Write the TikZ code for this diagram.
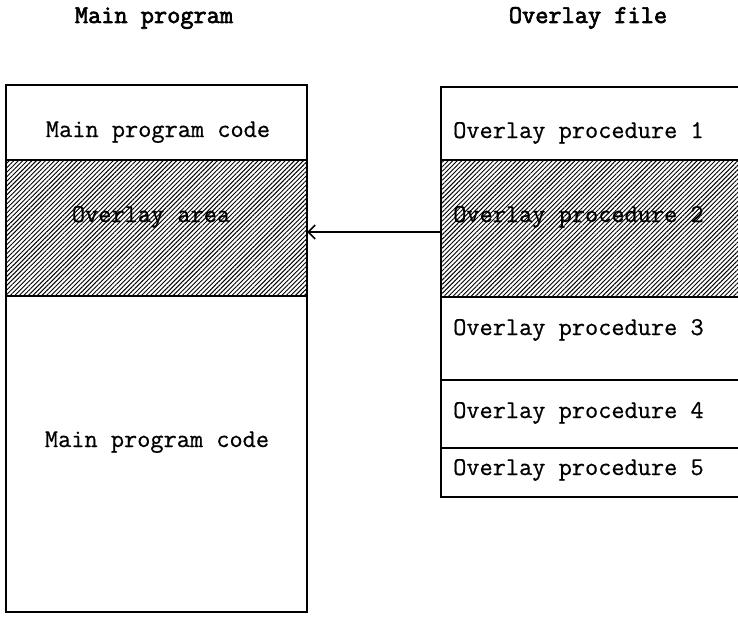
\documentclass[tikz,border=0pt]{standalone}
\usepackage{fontspec}
\newfontfamily\twr{Latin Modern Mono}[FakeBold=0.6]
\newfontfamily\twb{Latin Modern Mono}[FakeBold=2.6]
\usetikzlibrary{patterns.meta,arrows.meta}
\begin{document}
\begin{tikzpicture}[x=1pt,y=-1pt,
  sect/.style={draw=black,line width=2pt,rectangle,inner sep=0pt,outer sep=0pt,anchor=north west},
  hatch/.style={pattern={Lines[angle=45,distance=3.2pt,line width=0.95pt]}},
  lbl/.style={font=\fontsize{25.6}{28}\selectfont\twr,inner sep=0pt,anchor=base},
  rlbl/.style={lbl,anchor=base west},
  ttl/.style={font=\fontsize{25.6}{28}\selectfont\twb,inner sep=0pt,anchor=base},
  arr/.style={line width=1.8pt,-{Straight Barb[length=7pt,width=14pt,line width=1.6pt]}}]
\useasboundingbox (0,0) rectangle (738,618);
% titles
\node[ttl] (t1) at (154,23) {Main program};
\node[ttl] (t2) at (588,23) {Overlay file};
% main program
\node[sect,minimum width=301pt,minimum height=75pt] (m1) at (6,85) {};
\node[sect,hatch,minimum width=301pt,minimum height=136pt] (oa) at (6,160) {};
\node[sect,minimum width=301pt,minimum height=316pt] (m2) at (6,296) {};
% overlay file (right side runs off the page)
\node[sect,minimum width=320pt,minimum height=73pt] (p1) at (441,87) {};
\node[sect,hatch,minimum width=320pt,minimum height=137pt] (p2) at (441,160) {};
\node[sect,minimum width=320pt,minimum height=83pt] (p3) at (441,297) {};
\node[sect,minimum width=320pt,minimum height=68pt] (p4) at (441,380) {};
\node[sect,minimum width=320pt,minimum height=49pt] (p5) at (441,448) {};
% labels
\node[lbl] (lm1) at (158,137) {Main program code};
\node[lbl] (loa) at (151,222) {Overlay area};
\node[lbl] (lm2) at (157,447) {Main program code};
\node[rlbl] (lp1) at (453,138) {Overlay procedure 1};
\node[rlbl] (lp2) at (453,222) {Overlay procedure 2};
\node[rlbl] (lp3) at (453,335) {Overlay procedure 3};
\node[rlbl] (lp4) at (453,418) {Overlay procedure 4};
\node[rlbl] (lp5) at (453,475) {Overlay procedure 5};
% arrow
\coordinate (a) at (441,232);
\draw[arr] (a) -- (oa.east |- a);
\end{tikzpicture}
\end{document}
